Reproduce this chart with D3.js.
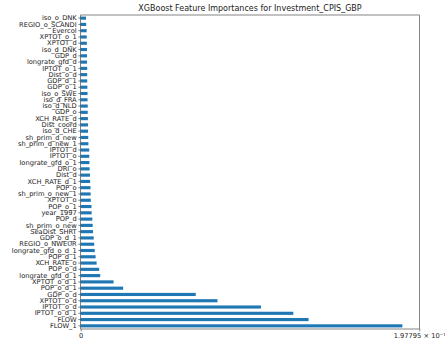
<!DOCTYPE html>
<html>
<head>
<meta charset="utf-8">
<script src="https://cdn.jsdelivr.net/npm/d3@7"></script>
<style>
  html, body { margin: 0; padding: 0; background: #fff; }
  svg { display: block; font-family: "DejaVu Sans", sans-serif; }
</style>
</head>
<body>
<svg id="chart" width="445" height="344"></svg>
<script>
// Feature names, listed from the top row of the chart to the bottom row
const features = [
  "iso_o_DNK", "REGIO_o_SCANDI", "Evercol", "XPTOT_o_1", "XPTOT_d",
  "iso_d_DNK", "GDP_d", "longrate_gfd_d", "IPTOT_o_1", "Dist_o_d",
  "GDP_d_1", "GDP_o_1", "iso_o_SWE", "iso_d_FRA", "iso_d_NLD",
  "GDP_o", "XCH_RATE_d", "Dist_coord", "iso_d_CHE", "sh_prim_d_new",
  "sh_prim_d_new_1", "IPTOT_d", "IPTOT_o", "longrate_gfd_o_1", "DRI_o",
  "Dist_d", "XCH_RATE_d_1", "POP_o", "sh_prim_o_new_1", "XPTOT_o",
  "POP_o_1", "year_1997", "POP_d", "sh_prim_o_new", "SeaDist_SHRT",
  "GDP_o_d_1", "REGIO_o_NWEUR", "longrate_gfd_o_d_1", "POP_d_1", "XCH_RATE_o",
  "POP_o_d", "longrate_gfd_d_1", "XPTOT_o_d_1", "POP_o_d_1", "GDP_o_d",
  "XPTOT_o_d", "IPTOT_o_d", "IPTOT_o_d_1", "FLOW", "FLOW_1"
];

// Importance of each feature, same order as above
const importances = [
  0.0031, 0.0032, 0.0035, 0.0035, 0.0036,
  0.0037, 0.0037, 0.0037, 0.0038, 0.0038,
  0.0038, 0.0039, 0.0040, 0.0040, 0.0041,
  0.0041, 0.0042, 0.0043, 0.0043, 0.0044,
  0.0045, 0.0050, 0.0050, 0.0051, 0.0052,
  0.0054, 0.0055, 0.0057, 0.0058, 0.0059,
  0.0063, 0.0064, 0.0068, 0.0070, 0.0072,
  0.0076, 0.0079, 0.0082, 0.0087, 0.0093,
  0.0108, 0.0114, 0.0192, 0.0248, 0.0672,
  0.0799, 0.1053, 0.1242, 0.1331, 0.1879
];

// X axis ticks and their labels
const xTicks = [0, 0.197795];
const xTickLabels = ["0", "1.97795 \u00d7 10\u207b\u00b9"];

const title = "XGBoost Feature Importances for Investment_CPIS_GBP";

const data = features.map((f, i) => ({ feature: f, value: importances[i] }));

const margin = { top: 15, left: 80.7, right: 25.7, bottom: 15 };
const width = 445, height = 344;
const plotW = width - margin.left - margin.right;
const plotH = height - margin.top - margin.bottom;

const svg = d3.select("#chart");
const g = svg.append("g").attr("transform", `translate(${margin.left},${margin.top})`);

const x = d3.scaleLinear().domain([0, xTicks[1]]).range([0, plotW]);
const y = d3.scaleBand().domain(features).range([0, plotH])
  .paddingInner(0.5).paddingOuter(0.25);

// Bars
g.selectAll("rect.bar")
  .data(data)
  .join("rect")
  .attr("class", "bar")
  .attr("x", x(0))
  .attr("y", d => y(d.feature))
  .attr("width", d => x(d.value) - x(0))
  .attr("height", y.bandwidth())
  .attr("fill", "#1f77b4");

// Frame
g.append("rect")
  .attr("x", 0).attr("y", 0)
  .attr("width", plotW).attr("height", plotH)
  .attr("fill", "none")
  .attr("stroke", "#333")
  .attr("stroke-width", 0.6);

// Y axis
const yAxis = d3.axisLeft(y).tickSize(2.4).tickPadding(1.6);
const yG = g.append("g").call(yAxis);
yG.select(".domain").remove();
yG.selectAll("line").attr("stroke", "#333").attr("stroke-width", 0.6);
yG.selectAll("text").attr("font-size", "6.7px").attr("fill", "#222")
  .attr("font-family", "DejaVu Sans, sans-serif");

// X axis
const xAxis = d3.axisBottom(x).tickValues(xTicks)
  .tickFormat((d, i) => xTickLabels[i]).tickSize(2.4).tickPadding(2.2);
const xG = g.append("g").attr("transform", `translate(0,${plotH})`).call(xAxis);
xG.select(".domain").remove();
xG.selectAll("line").attr("stroke", "#333").attr("stroke-width", 0.6);
xG.selectAll("text").attr("font-size", "6.7px").attr("fill", "#222")
  .attr("font-family", "DejaVu Sans, sans-serif");

// Title
svg.append("text")
  .attr("x", margin.left + plotW / 2)
  .attr("y", 11)
  .attr("text-anchor", "middle")
  .attr("font-size", "8px")
  .attr("fill", "#222")
  .text(title);
</script>
</body>
</html>
